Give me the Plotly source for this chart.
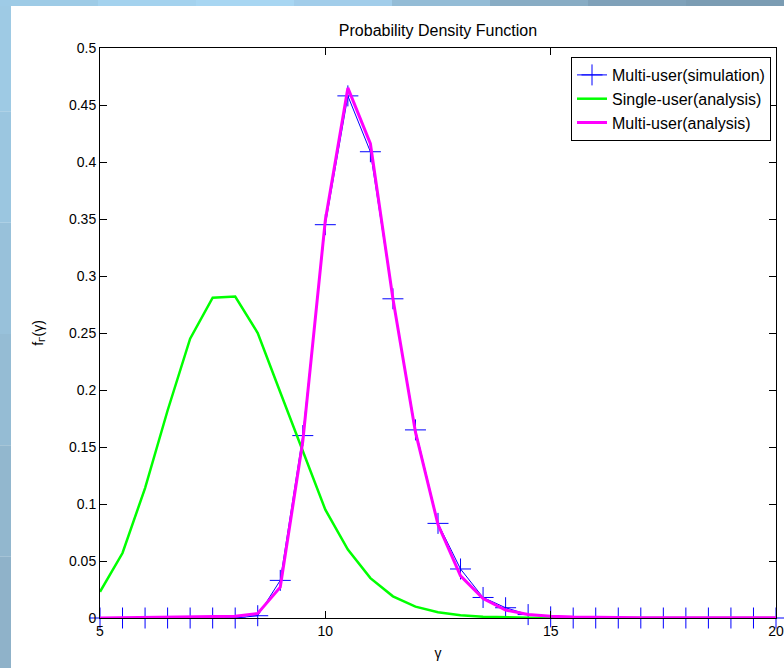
import plotly.graph_objects as go

gamma = [5 + 0.5 * i for i in range(31)]

multi_sim = [0, 0, 0, 0, 0, 0, 0,
             0.002, 0.033, 0.160, 0.345, 0.458, 0.409, 0.280, 0.165,
             0.083, 0.043, 0.018, 0.009, 0.003, 0.001,
             0, 0, 0, 0, 0, 0, 0, 0, 0, 0]

single_ana = [0.023, 0.057, 0.114, 0.182, 0.245, 0.281, 0.282, 0.250, 0.198,
              0.147, 0.095, 0.060, 0.035, 0.019, 0.010, 0.005, 0.0025, 0.0012,
              0.0006, 0.0003, 0.0001, 0.0001, 0, 0, 0, 0, 0, 0, 0, 0, 0]

multi_ana = [0, 0.0002, 0.0003, 0.0005, 0.0007, 0.001, 0.0015,
             0.004, 0.027, 0.155, 0.349, 0.465, 0.416, 0.280, 0.163,
             0.082, 0.037, 0.017, 0.007, 0.003, 0.0015, 0.0008,
             0.0005, 0.0004, 0.0003, 0.0003, 0.0002, 0.0002, 0.0002, 0.0002, 0.0002]

x_ticks = [5, 10, 15, 20]
y_ticks = [0, 0.05, 0.1, 0.15, 0.2, 0.25, 0.3, 0.35, 0.4, 0.45, 0.5]
y_ticktext = ["0", "0.05", "0.1", "0.15", "0.2", "0.25", "0.3", "0.35", "0.4", "0.45", "0.5"]

W, H = 784, 668
L, R, T, B = 100, 776, 48, 618

fig = go.Figure()
fig.add_trace(go.Scatter(
    x=gamma, y=multi_sim, mode="lines+markers", name="Multi-user(simulation)",
    cliponaxis=False,
    line=dict(color="#0000ff", width=1),
    marker=dict(symbol="cross-thin-open", size=15, color="#0000ff",
                line=dict(color="#0000ff", width=1))))
fig.add_trace(go.Scatter(
    x=gamma, y=single_ana, mode="lines", name="Single-user(analysis)",
    line=dict(color="#00ff00", width=2.5)))
fig.add_trace(go.Scatter(
    x=gamma, y=multi_ana, mode="lines", name="Multi-user(analysis)",
    line=dict(color="#ff00ff", width=3)))

def px2paper_x(px):
    return (px - L) / (R - L)

def px2paper_y(py):
    return (B - py) / (B - T)

shapes = []
# left gradient strip
left_cols = ["#9ecae4", "#9bc6e0", "#98c1da", "#95bcd4", "#92b7ce", "#8fb2c9"]
n = len(left_cols)
for i, c in enumerate(left_cols):
    y0 = H * i / n
    y1 = H * (i + 1) / n
    shapes.append(dict(type="rect", xref="paper", yref="paper",
                       x0=px2paper_x(0), x1=px2paper_x(11),
                       y0=px2paper_y(y1), y1=px2paper_y(y0),
                       fillcolor=c, line=dict(width=0), layer="below"))
# top gradient strip
top_cols = ["#9ecbe6", "#a4d2ee", "#a8d6f2", "#a2cdea", "#94bcd6", "#88acc4", "#7fa1b9", "#7b9cb3"]
n = len(top_cols)
for i, c in enumerate(top_cols):
    x0 = W * i / n
    x1 = W * (i + 1) / n
    shapes.append(dict(type="rect", xref="paper", yref="paper",
                       x0=px2paper_x(x0), x1=px2paper_x(x1),
                       y0=px2paper_y(6), y1=px2paper_y(0),
                       fillcolor=c, line=dict(width=0), layer="below"))

font = dict(family="Liberation Sans, Arial, sans-serif", size=14, color="black")

fig.update_layout(
    width=W, height=H,
    margin=dict(l=L, r=W - R, t=T, b=H - B, autoexpand=False),
    paper_bgcolor="white", plot_bgcolor="white",
    font=font,
    title=dict(text="Probability Density Function", x=(L + R) / 2 / W, xanchor="center",
               y=1 - 30 / H, yanchor="middle", font=dict(size=16)),
    xaxis=dict(range=[5, 20], tickvals=x_ticks, ticks="inside", ticklen=7,
               showline=True, linecolor="black", linewidth=1, mirror="ticks",
               showgrid=False, zeroline=False, tickcolor="black", automargin=False,
               title=dict(text="γ", standoff=10, font=dict(size=14))),
    yaxis=dict(range=[0, 0.5], tickvals=y_ticks, ticktext=y_ticktext, ticks="inside",
               ticklen=7, showline=True, linecolor="black", linewidth=1, mirror="ticks",
               showgrid=False, zeroline=False, tickcolor="black", automargin=False,
               title=dict(text="f<sub>Γ</sub>(γ)", standoff=22, font=dict(size=14))),
    legend=dict(x=px2paper_x(771), xanchor="right", y=px2paper_y(57), yanchor="top",
                bgcolor="white", bordercolor="black", borderwidth=1,
                font=dict(size=16), tracegroupgap=0,
                entrywidth=185, entrywidthmode="pixels"),
    showlegend=True,
    shapes=shapes,
)

fig.write_html("out.html", config={"displayModeBar": False},
               post_script="document.body.style.margin='0';document.body.style.overflow='hidden';")
